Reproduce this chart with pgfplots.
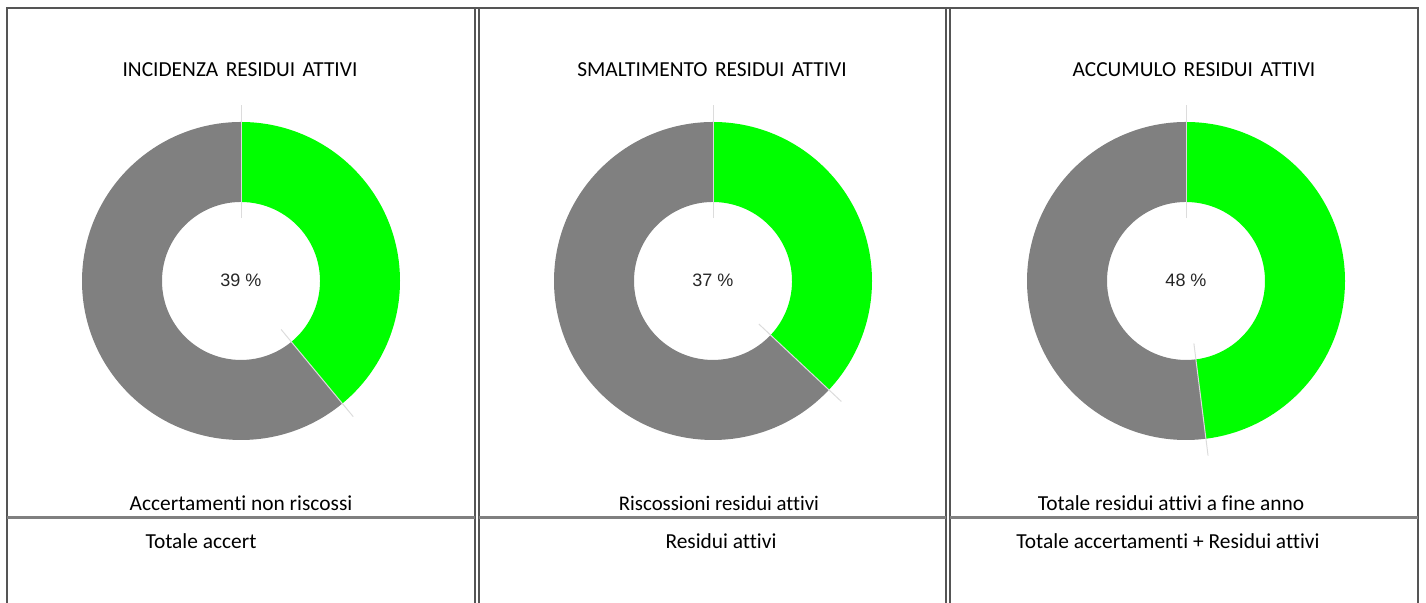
\documentclass[border=0pt]{standalone}
\usepackage{pgfplots}
\usepackage{pgfplotstable}
\pgfplotsset{compat=1.18}
\usepackage{fontspec}
\setmainfont[Ligatures=NoCommon]{Carlito}
\newfontfamily\arialf{Liberation Sans}
\definecolor{pgreen}{HTML}{00FF00}
\definecolor{pgray}{HTML}{808080}
\definecolor{faint}{HTML}{DCDCDC}
\definecolor{border}{HTML}{555555}
\definecolor{hline}{HTML}{808080}

\pgfplotstableread{
chart value
1 39
2 37
3 48
}\donutdata

\newcommand{\donut}[2]{% #1 x-center (pt), #2 row index
  \pgfplotstablegetelem{#2}{value}\of\donutdata
  \edef\val{\pgfplotsretval}
  \begin{axis}[
    at={(#1,161pt)}, anchor=origin,
    x=79.5pt, y=79.5pt,
    xmin=-1.2, xmax=1.2, ymin=-1.2, ymax=1.2,
    hide axis, clip=false,
    /pgf/number format/assume math mode=true,
  ]
  \pgfmathsetmacro\ang{90-3.6*\val}
  \fill[pgreen] (axis cs:0,1) arc[start angle=90, end angle=\ang, radius=79.5pt]
     -- (axis cs:{0.497*cos(\ang)},{0.497*sin(\ang)})
     arc[start angle=\ang, end angle=90, radius=39.5pt] -- cycle;
  \fill[pgray] (axis cs:{cos(\ang)},{sin(\ang)}) arc[start angle=\ang, end angle=-270, radius=79.5pt]
     -- (axis cs:0,0.497)
     arc[start angle=90, end angle=\ang+360, radius=39.5pt] -- cycle;
  \draw[faint, line width=0.5pt] (axis cs:0,0.396) -- (axis cs:0,1.107);
  \draw[faint, line width=0.5pt] (axis cs:{0.396*cos(\ang)},{0.396*sin(\ang)}) -- (axis cs:{1.107*cos(\ang)},{1.107*sin(\ang)});
  \addplot[draw=none, mark=none, point meta=explicit,
    nodes near coords={\arialf\fontsize{9}{10}\selectfont\pgfmathprintnumber{\pgfplotspointmeta}~\%},
    every node near coord/.append style={anchor=center, inner sep=0pt, text=black!85}]
    coordinates {(0,0.005) [\val]};
  \end{axis}
}

\begin{document}
\begin{tikzpicture}[x=0.5pt, y=0.5pt]
\path[use as bounding box] (0,0) rectangle (1426,603);
% borders
\draw[border, line width=1pt] (7,0) -- (7,594.5) -- (1418,594.5) -- (1418,0);
\foreach \xx in {475,478.5,946,950} \draw[border, line width=1pt] (\xx,0) -- (\xx,594.5);
\draw[hline, line width=1.5pt] (7,85) -- (475,85);
\draw[hline, line width=1.5pt] (478.5,85) -- (946,85);
\draw[hline, line width=1.5pt] (950,85) -- (1418,85);

\donut{120.5pt}{0}
\donut{356.5pt}{1}
\donut{593pt}{2}

\begin{scope}[every node/.style={inner sep=0pt, font=\fontsize{10.7}{12}\selectfont}]
\node at (240,533) {INCIDENZA\hspace{0.35em}RESIDUI\hspace{0.35em}ATTIVI};
\node at (712,533) {SMALTIMENTO\hspace{0.35em}RESIDUI\hspace{0.35em}ATTIVI};
\node at (1194,533) {ACCUMULO\hspace{0.35em}RESIDUI\hspace{0.35em}ATTIVI};
\node at (241,100) {Accertamenti non riscossi};
\node at (719,100) {\fontsize{10.4}{12}\selectfont Riscossioni residui attivi};
\node at (1171,100) {Totale residui attivi a fine anno};
\node at (201,62) {Totale accert};
\node at (721,62) {Residui attivi};
\node at (1168,62) {Totale accertamenti + Residui attivi};
\end{scope}
\end{tikzpicture}
\end{document}
